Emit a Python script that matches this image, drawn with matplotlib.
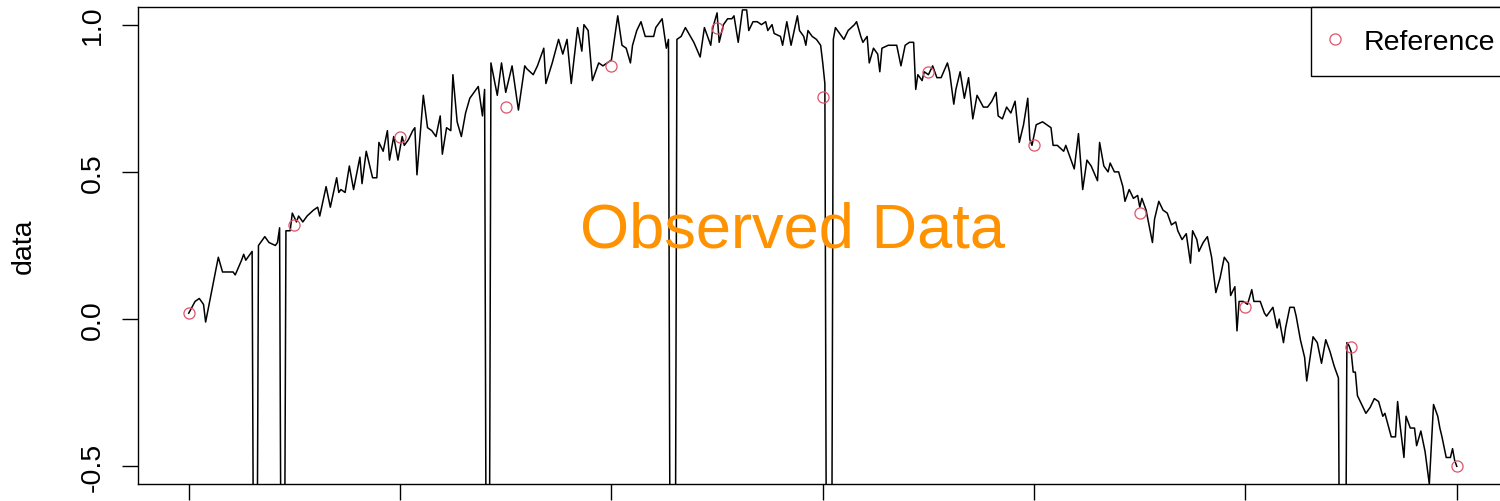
import numpy as np
import matplotlib
matplotlib.use("Agg")
import matplotlib.pyplot as plt

plt.rcParams['font.family'] = ['Liberation Sans', 'DejaVu Sans']

LOW = -1.5  # dropout samples, far below the plotted range

# observed series (sample index, value)
obs_x = [0, 3, 5, 7, 8, 14, 16, 18, 19, 21, 22, 25, 26, 27, 29, 30, 31, 32,
         33, 36, 38, 41, 42, 43, 44, 45, 46, 48, 49, 51, 52, 54, 56, 59, 61,
         62, 65, 67, 70, 71, 72, 74, 76, 78, 81, 82, 84, 87, 89, 90, 92, 94,
         95, 97, 99, 101, 102, 104, 106, 107, 108, 111, 113, 115, 117, 119,
         120, 122, 124, 125, 127, 129, 131, 133, 135, 137, 139, 140, 141, 142,
         143, 146, 148, 150, 153, 156, 159, 160, 163, 165, 168, 169, 172, 175,
         177, 179, 181, 184, 186, 187, 189, 191, 194, 196, 198, 200, 203, 205,
         207, 209, 210, 212, 214, 216, 218, 220, 221, 224, 226, 227, 228, 229,
         230, 231, 233, 235, 239, 242, 244, 246, 247, 248, 250, 251, 253, 255,
         257, 258, 260, 262, 264, 265, 267, 269, 271, 273, 274, 276, 277, 280,
         281, 283, 285, 288, 289, 291, 292, 293, 295, 297, 299, 300, 301, 302,
         303, 304, 305, 306, 308, 310, 312, 315, 316, 318, 319, 321, 322, 324,
         326, 327, 328, 331, 333, 335, 337, 339, 341, 343, 344, 345, 347, 348,
         350, 352, 354, 356, 359, 360, 362, 363, 365, 367, 369, 371, 373, 376,
         378, 380, 382, 383, 385, 387, 389, 391, 393, 395, 397, 398, 399, 401,
         404, 406, 408, 409, 411, 414, 415, 417, 419, 421, 423, 425, 427, 430,
         431, 433, 435, 436, 438, 440, 442, 443, 445, 447, 449, 450, 451, 453,
         456, 457, 459, 461, 463, 465, 467, 468, 470, 472, 474, 475, 477, 478,
         480, 481, 482, 484, 486, 488, 490, 492, 493, 495, 496, 497, 499, 501,
         503, 504, 507, 509, 510, 513, 515, 516, 518, 519, 521, 523, 524, 526,
         528, 529, 532, 534, 536, 538, 540, 542, 544, 545, 546, 547, 548, 549,
         550, 551, 552, 553, 557, 559, 561, 563, 565, 566, 569, 571, 572, 573,
         575, 576, 578, 580, 581, 583, 585, 587, 589, 591, 592, 593, 595, 597,
         598, 599, 600]
obs_y = [0.02, 0.06, 0.07, 0.05, -0.01, 0.21, 0.16, 0.16, 0.16, 0.16, 0.15,
         0.20, 0.22, 0.20, 0.22, 0.23, LOW, LOW,
         0.25, 0.28, 0.26, 0.25, 0.26, 0.31, LOW, LOW, 0.30, 0.30, 0.36, 0.33,
         0.35, 0.33, 0.35, 0.37, 0.38,
         0.35, 0.45, 0.38, 0.48, 0.43, 0.44, 0.43, 0.52, 0.44, 0.55, 0.46,
         0.57, 0.48, 0.48, 0.60, 0.57, 0.64,
         0.54, 0.62, 0.54, 0.62, 0.59, 0.61, 0.64, 0.65, 0.49, 0.76, 0.65,
         0.64, 0.62, 0.69,
         0.56, 0.65, 0.64, 0.83, 0.67, 0.62, 0.70, 0.75, 0.77, 0.79, 0.69,
         0.78, LOW, LOW,
         0.87, 0.76, 0.87, 0.77, 0.86, 0.71, 0.86, 0.85, 0.83, 0.86, 0.92,
         0.80, 0.87, 0.95,
         0.90, 0.95, 0.80, 0.99, 0.91, 1.00, 0.98, 0.81, 0.87, 0.86, 0.87,
         0.88, 1.03, 0.93,
         0.92, 0.87, 0.93, 0.98, 1.01, 0.96, 0.96, 0.96, 0.99, 1.02, 0.92,
         0.95, LOW, LOW,
         LOW, 0.95, 0.96, 0.99, 0.94, 0.89, 0.99, 0.95, 0.93, 0.99, 1.04,
         0.94, 1.00, 1.02,
         1.02, 1.03, 0.94, 1.05, 1.05, 0.98, 1.01, 1.01, 1.00, 1.01, 0.98,
         1.00, 0.97, 0.96,
         0.93, 1.01, 0.93, 1.03, 0.98, 0.96, 0.93, 0.98, 0.96, 0.95, 0.93,
         0.87, 0.80, LOW,
         LOW, LOW, 0.95, 0.99, 0.97, 0.95, 0.98, 1.00, 1.01, 0.96, 0.94, 0.96,
         0.87, 0.92,
         0.90, 0.84, 0.92, 0.93, 0.93, 0.93, 0.86, 0.93, 0.94, 0.94, 0.78,
         0.83, 0.81, 0.84,
         0.83, 0.86, 0.82, 0.82, 0.87, 0.84, 0.73, 0.78, 0.84, 0.75, 0.82,
         0.68, 0.76, 0.72,
         0.72, 0.74, 0.77, 0.69, 0.68, 0.72, 0.70, 0.74, 0.60, 0.66, 0.75,
         0.61, 0.59, 0.66,
         0.67, 0.66, 0.65, 0.59, 0.59, 0.57, 0.59, 0.55, 0.51, 0.63, 0.44,
         0.54, 0.52, 0.47,
         0.60, 0.52, 0.50, 0.53, 0.50, 0.50, 0.45, 0.40, 0.44, 0.41, 0.42,
         0.38, 0.41, 0.37,
         0.26, 0.34, 0.40, 0.37, 0.36, 0.32, 0.33, 0.30, 0.27, 0.29, 0.19,
         0.30, 0.27, 0.23,
         0.26, 0.27, 0.28, 0.21, 0.09, 0.14, 0.21, 0.19, 0.08, 0.11, -0.04,
         0.06, 0.06, 0.05,
         0.10, 0.06, 0.06, 0.02, 0.01, 0.04, -0.03, 0.00, -0.08, -0.03, 0.04,
         0.04, 0.01, -0.07,
         -0.13, -0.21, -0.06, -0.08, -0.15, -0.07, -0.11, -0.16, -0.20, LOW,
         LOW, LOW, -0.08, -0.09,
         -0.11, -0.18, -0.18, -0.26, -0.32, -0.30, -0.27, -0.28, -0.33, -0.32,
         -0.40, -0.40, -0.28, -0.35,
         -0.47, -0.33, -0.37, -0.37, -0.43, -0.38, -0.45, -0.56, -0.29, -0.33,
         -0.37, -0.40, -0.47, -0.47,
         -0.44, -0.48, -0.50]

# reference points
ref_x = [0, 50, 100, 150, 200, 250, 300, 350, 400, 450, 500, 550, 600]
ref_y = [0.02, 0.32, 0.62, 0.72, 0.86, 0.99, 0.755, 0.84, 0.59, 0.36, 0.04,
         -0.095, -0.50]

y_ticks = [-0.5, 0.0, 0.5, 1.0]
y_labels = ["-0.5", "0.0", "0.5", "1.0"]
x_ticks = [0, 100, 200, 300, 400, 500, 600]

ref_color = '#DF536B'
fs = 20.5

fig = plt.figure(figsize=(15, 5.02), dpi=100)
ax = fig.add_axes([0.092, 0.0339, 0.913, 0.9502])

ax.plot(obs_x, obs_y, color='black', lw=1.1)
ax.plot(ref_x, ref_y, linestyle='none', marker='o', ms=8, mfc='none',
        mec=ref_color, mew=0.9, label='Reference')

ax.set_xlim(-24, 624)
ax.set_ylim(-0.56, 1.06)

ax.set_xticks(x_ticks)
ax.set_yticks(y_ticks)
ax.set_yticklabels(y_labels, rotation=90, va='center')
ax.tick_params(axis='both', direction='out', length=11.5, width=1.0,
               labelsize=fs, pad=11.5)
ax.tick_params(axis='x', labelbottom=False)
for s in ax.spines.values():
    s.set_linewidth(1.0)

ax.set_ylabel('data', fontsize=fs)
ax.yaxis.set_label_coords(-0.074, 0.5)

# legend box sticks out past the right edge, as in the cropped original
leg = ax.legend(loc='upper right', bbox_to_anchor=(1.0066, 1.0),
                borderaxespad=0, fancybox=False, edgecolor='black',
                framealpha=1, fontsize=fs, borderpad=0.756,
                handlelength=0.175, handletextpad=0.93)
leg.get_frame().set_linewidth(1.0)

fig.text(792 / 1500, 0.506, 'Observed Data', fontsize=45.5,
         color='#FF9200', ha='center', va='baseline')

fig.savefig('out.png', dpi=100)
